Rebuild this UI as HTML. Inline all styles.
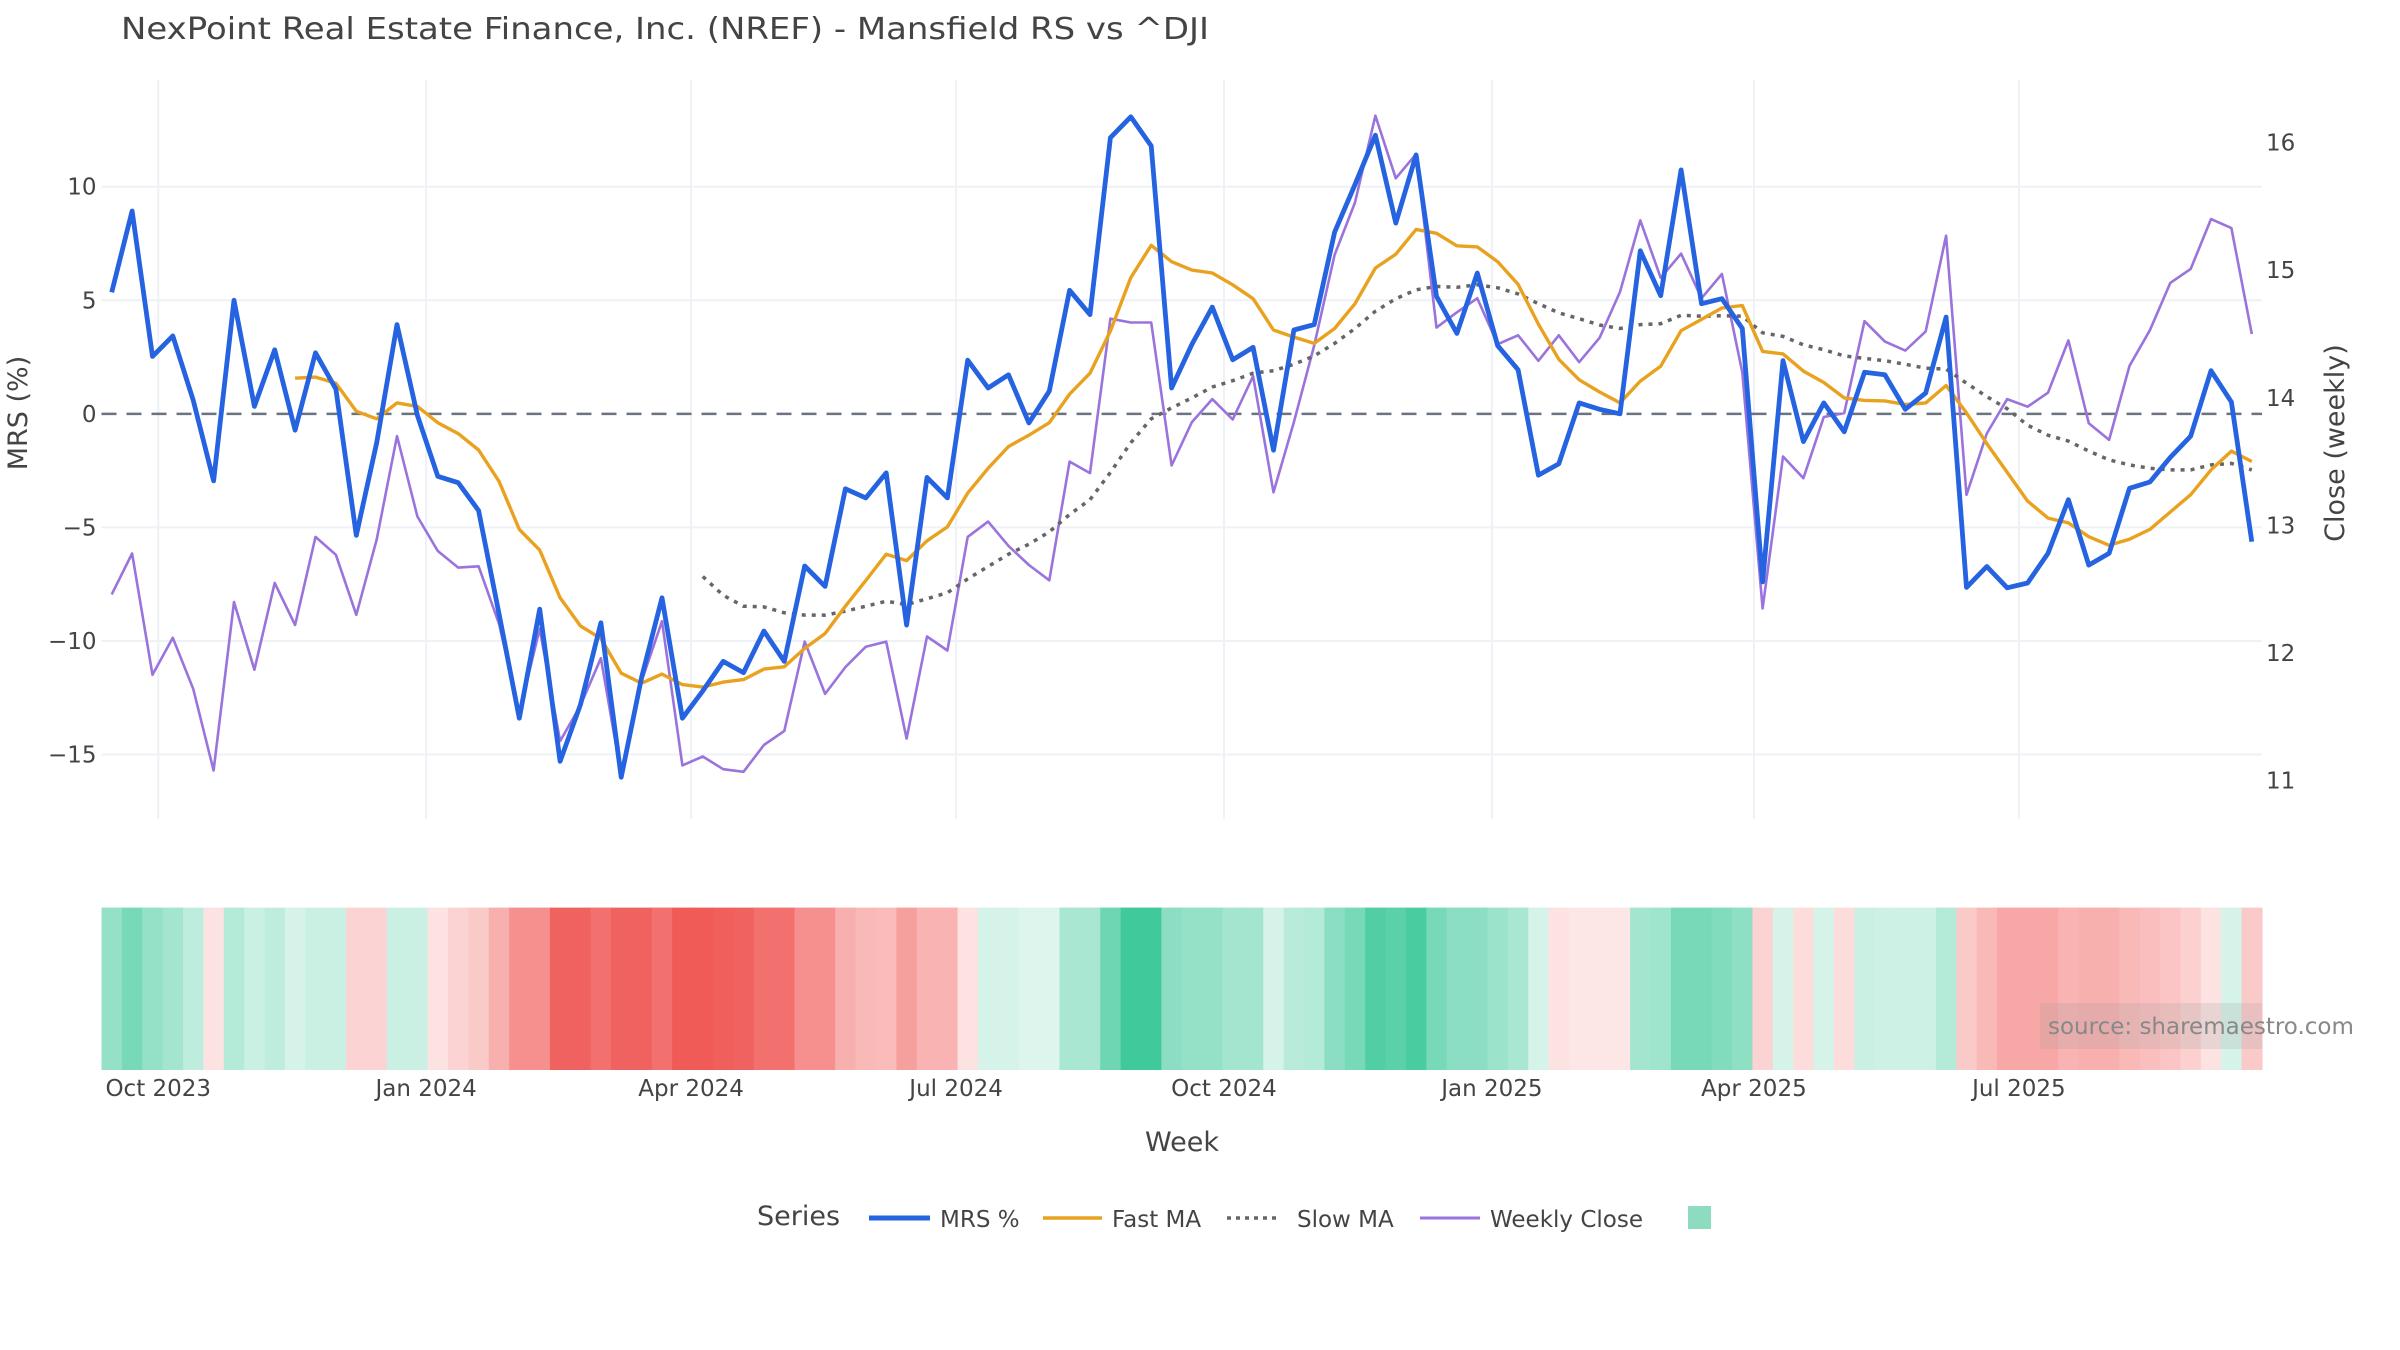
<!DOCTYPE html>
<html><head><meta charset="utf-8"><title>NREF Mansfield RS</title>
<style>html,body{margin:0;padding:0;background:#fff}svg{display:block}text{font-family:"DejaVu Sans","Liberation Sans",sans-serif;fill:#444}</style>
</head><body>
<svg id="chart" xmlns="http://www.w3.org/2000/svg" width="2400" height="1350" viewBox="0 0 2400 1350">
<text x="121" y="39" font-size="30" textLength="1088" lengthAdjust="spacingAndGlyphs" style="fill:#444">NexPoint Real Estate Finance, Inc. (NREF) - Mansfield RS vs ^DJI</text>
<g id="grid"></g>
<g id="heat"></g>
<g id="series"></g>
<g id="axes"></g>
<text transform="translate(27,413) rotate(-90)" text-anchor="middle" font-size="27">MRS (%)</text>
<text transform="translate(2344,443) rotate(-90)" text-anchor="middle" font-size="27">Close (weekly)</text>
<text x="1182" y="1151" text-anchor="middle" font-size="27">Week</text>
<rect x="2040" y="1003" width="222" height="46" fill="#999" fill-opacity="0.2"/>
<text x="2048" y="1034" font-size="23" style="fill:#888">source: sharemaestro.com</text>
<g>
<text x="757" y="1225" font-size="27">Series</text>
<g><line x1="869" y1="1218" x2="930" y2="1218" stroke="#2563e0" stroke-width="5"/><text x="940" y="1227" font-size="23">MRS %</text></g>
<g><line x1="1043" y1="1218" x2="1102" y2="1218" stroke="#e9a21f" stroke-width="3.5"/><text x="1112" y="1227" font-size="23">Fast MA</text></g>
<g><line x1="1227" y1="1218" x2="1281" y2="1218" stroke="#666" stroke-width="3.5" stroke-dasharray="4,5"/><text x="1297" y="1227" font-size="23">Slow MA</text></g>
<g><line x1="1420" y1="1218" x2="1480" y2="1218" stroke="#9a73dc" stroke-width="3"/><text x="1490" y="1227" font-size="23">Weekly Close</text></g>
<rect x="1688" y="1206" width="23" height="23" fill="#8ddcc0"/>
</g>
</svg>
<script>
const startDate = "2023-09-15";
const mrs = [5.35,8.93,2.53,3.43,0.6,-2.95,5.0,0.33,2.82,-0.72,2.69,1.09,-5.35,-1.27,3.93,-0.07,-2.75,-3.03,-4.26,-8.8,-13.4,-8.6,-15.3,-12.8,-9.2,-16.0,-11.6,-8.1,-13.4,-12.2,-10.9,-11.4,-9.56,-10.9,-6.7,-7.6,-3.3,-3.7,-2.6,-9.3,-2.8,-3.7,2.36,1.14,1.72,-0.4,1.0,5.44,4.37,12.16,13.08,11.8,1.14,3.06,4.7,2.38,2.93,-1.6,3.69,3.93,8.0,10.1,12.27,8.4,11.4,5.17,3.54,6.2,3.0,1.94,-2.7,-2.2,0.48,0.2,0.0,7.18,5.2,10.74,4.85,5.07,3.76,-7.4,2.34,-1.22,0.48,-0.79,1.83,1.72,0.2,0.92,4.26,-7.64,-6.72,-7.66,-7.45,-6.14,-3.78,-6.66,-6.14,-3.28,-3.0,-1.92,-0.98,1.9,0.52,-5.63];
const fastMA = [null,null,null,null,null,null,null,null,null,1.57,1.62,1.35,0.11,-0.22,0.48,0.33,-0.39,-0.87,-1.59,-2.97,-5.09,-6.0,-8.1,-9.34,-9.89,-11.42,-11.86,-11.46,-11.92,-12.03,-11.81,-11.7,-11.24,-11.14,-10.33,-9.67,-8.47,-7.34,-6.18,-6.46,-5.59,-4.98,-3.49,-2.4,-1.44,-0.94,-0.39,0.87,1.79,3.65,6.0,7.42,6.7,6.33,6.2,5.68,5.07,3.69,3.38,3.1,3.76,4.85,6.42,7.03,8.12,7.95,7.4,7.35,6.7,5.7,3.95,2.4,1.5,0.96,0.48,1.44,2.1,3.66,4.16,4.66,4.77,2.75,2.64,1.88,1.38,0.7,0.59,0.57,0.41,0.48,1.25,0.04,-1.31,-2.58,-3.84,-4.59,-4.8,-5.41,-5.79,-5.52,-5.09,-4.32,-3.56,-2.47,-1.64,-2.1];
const slowMA = [null,null,null,null,null,null,null,null,null,null,null,null,null,null,null,null,null,null,null,null,null,null,null,null,null,null,null,null,null,-7.16,-7.99,-8.47,-8.5,-8.76,-8.86,-8.86,-8.69,-8.47,-8.25,-8.4,-8.14,-7.88,-7.27,-6.72,-6.18,-5.74,-5.2,-4.43,-3.78,-2.58,-1.27,-0.22,0.26,0.7,1.18,1.46,1.79,1.9,2.18,2.55,3.1,3.76,4.52,5.07,5.46,5.61,5.57,5.68,5.55,5.28,4.85,4.45,4.19,3.91,3.76,3.93,3.97,4.34,4.3,4.32,4.3,3.57,3.41,3.04,2.82,2.55,2.44,2.34,2.18,2.01,1.97,1.35,0.76,0.22,-0.5,-0.94,-1.2,-1.64,-2.03,-2.25,-2.4,-2.47,-2.47,-2.25,-2.18,-2.47];
const weeklyClose = [12.46,12.78,11.83,12.12,11.72,11.08,12.40,11.87,12.55,12.22,12.91,12.77,12.30,12.89,13.70,13.07,12.80,12.67,12.68,12.23,11.53,12.19,11.31,11.59,11.96,11.04,11.78,12.25,11.12,11.19,11.09,11.07,11.28,11.39,12.09,11.68,11.89,12.05,12.09,11.33,12.13,12.02,12.91,13.03,12.84,12.69,12.57,13.50,13.41,14.62,14.59,14.59,13.47,13.81,13.99,13.83,14.17,13.26,13.81,14.41,15.12,15.53,16.21,15.72,15.91,14.55,14.67,14.78,14.42,14.49,14.29,14.49,14.28,14.47,14.83,15.39,14.94,15.13,14.78,14.97,14.2,12.35,13.54,13.37,13.85,13.88,14.6,14.44,14.37,14.52,15.27,13.24,13.72,13.99,13.93,14.04,14.45,13.8,13.67,14.25,14.53,14.9,15.01,15.4,15.33,14.5];
const heatScore = [0.45,0.6,0.45,0.38,0.25,-0.12,0.3,0.2,0.25,0.15,0.2,0.2,-0.2,-0.2,0.2,0.2,-0.12,-0.2,-0.25,-0.4,-0.6,-0.6,-0.9,-0.9,-0.8,-0.9,-0.9,-0.8,-0.95,-0.95,-0.92,-0.9,-0.8,-0.8,-0.6,-0.6,-0.4,-0.35,-0.33,-0.5,-0.38,-0.38,-0.12,0.15,0.15,0.12,0.12,0.35,0.35,0.65,0.9,0.9,0.5,0.45,0.45,0.38,0.38,0.15,0.28,0.3,0.5,0.6,0.8,0.75,0.85,0.6,0.5,0.5,0.42,0.35,0.15,-0.12,-0.1,-0.1,-0.1,0.38,0.4,0.6,0.6,0.55,0.48,-0.2,0.15,-0.15,0.15,-0.15,0.2,0.18,0.18,0.18,0.3,-0.25,-0.35,-0.45,-0.45,-0.45,-0.38,-0.4,-0.4,-0.35,-0.32,-0.28,-0.22,-0.12,0.15,-0.25];
const yTicks = [-15,-10,-5,0,5,10];
const yTickLabels = ["\u221215","\u221210","\u22125","0","5","10"];
const y2Ticks = [11,12,13,14,15,16];
const xTickDates = ["2023-10-01","2024-01-01","2024-04-01","2024-07-01","2024-10-01","2025-01-01","2025-04-01","2025-07-01"];
const xTickLabels = ["Oct 2023","Jan 2024","Apr 2024","Jul 2024","Oct 2024","Jan 2025","Apr 2025","Jul 2025"];

const NS="http://www.w3.org/2000/svg";
const DAY=86400000;
const t0=Date.parse(startDate);
const n=mrs.length;
const dates=mrs.map((_,i)=>t0+i*7*DAY);
const PL=101.5, PR=2262, PT=80, PB=819;
const xMin=dates[0]-3.5*DAY, xMax=dates[n-1]+3.5*DAY;
function xScale(t){return PL+(t-xMin)/(xMax-xMin)*(PR-PL);}
const yMin=-17.84, yMax=14.7;
function yScale(v){return PB-(v-yMin)/(yMax-yMin)*(PB-PT);}
const y2Min=10.70, y2Max=16.49;
function y2Scale(v){return PB-(v-y2Min)/(y2Max-y2Min)*(PB-PT);}
function mk(tag,attrs,parent){const e=document.createElementNS(NS,tag);for(const k in attrs)e.setAttribute(k,attrs[k]);parent.appendChild(e);return e;}

const grid=document.getElementById('grid');
const axes=document.getElementById('axes');
yTicks.forEach((v,i)=>{
  const y=yScale(v);
  if(v!==0){const gl=mk('line',{x1:PL,x2:PR,y1:y,y2:y,stroke:'#eef1f5','stroke-width':2},grid);
  
  }
  const t=mk('text',{x:PL-5,y:y+8,'text-anchor':'end','font-size':23},axes);
  t.textContent=yTickLabels[i];
  
  
});
y2Ticks.forEach(v=>{
  const y=y2Scale(v);
  const t=mk('text',{x:PR+4,y:y+8,'font-size':23},axes);
  t.textContent=String(v);
  
  
});
xTickDates.forEach((d,i)=>{
  const x=xScale(Date.parse(d));
  const gl=mk('line',{x1:x,x2:x,y1:PT,y2:PB,stroke:'#eef1f5','stroke-width':2},grid);
  
  
  const t=mk('text',{x:x,y:1096,'text-anchor':'middle','font-size':23},axes);
  t.textContent=xTickLabels[i];
  
  
});
const zl=mk('line',{x1:PL,x2:PR,y1:yScale(0),y2:yScale(0),stroke:'#6b7280','stroke-width':2.5,'stroke-dasharray':'15,10'},grid);



const heat=document.getElementById('heat');
const HT=907.6, HB=1070;
function heatColor(s){
  const a=Math.min(1,Math.pow(Math.abs(s),0.85));
  const c=s>=0?[46,196,146]:[239,83,80];
  const r=Math.round(255+(c[0]-255)*a),g=Math.round(255+(c[1]-255)*a),b=Math.round(255+(c[2]-255)*a);
  return 'rgb('+r+','+g+','+b+')';
}
heatScore.forEach((s,i)=>{
  const x0=xScale(dates[i]-3.5*DAY), x1=xScale(dates[i]+3.5*DAY);
  const r=mk('rect',{x:x0,y:HT,width:x1-x0+0.6,height:HB-HT,fill:heatColor(s)},heat);
  
  
});

const series=document.getElementById('series');
function path(vals,sc,attrs,name){
  let d='',pen=false;
  vals.forEach((v,i)=>{
    if(v===null||v===undefined){pen=false;return;}
    d+=(pen?'L':'M')+xScale(dates[i]).toFixed(1)+','+sc(v).toFixed(1);pen=true;
  });
  const p=mk('path',Object.assign({d:d,fill:'none','stroke-linejoin':'round'},attrs),series);
  
  
}
path(weeklyClose,y2Scale,{stroke:'#9a73dc','stroke-width':2.6},'weekly-close-line');
path(slowMA,yScale,{stroke:'#666','stroke-width':3.5,'stroke-dasharray':'4,6'},'slow-ma-line');
path(fastMA,yScale,{stroke:'#e9a21f','stroke-width':3.4},'fast-ma-line');
path(mrs,yScale,{stroke:'#2563e0','stroke-width':4.8},'mrs-line');
</script>
</body></html>
